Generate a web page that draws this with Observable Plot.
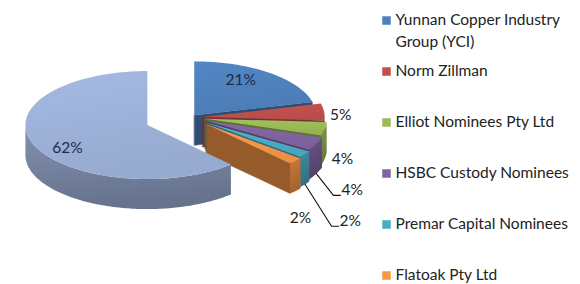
<!DOCTYPE html>
<html><head><meta charset="utf-8">
<script src="https://cdn.jsdelivr.net/npm/d3@7"></script>
<script src="https://cdn.jsdelivr.net/npm/@observablehq/plot@0.6"></script>
<style>body{margin:0;background:#fff}#chart{width:580px;height:284px}</style>
</head><body><div id="chart"></div>
<script>
// ---- data ----
const owners = ["Yunnan Copper Industry Group (YCI)", "Norm Zillman", "Elliot Nominees Pty Ltd", "HSBC Custody Nominees", "Premar Capital Nominees", "Flatoak Pty Ltd", "Others"];
const shares = [21, 5, 4, 4, 2, 2, 62];
const pctLabels = ["21%", "5%", "4%", "4%", "2%", "2%", "62%"];
const legendLabels = [["Yunnan Copper Industry", "Group (YCI)"], ["Norm Zillman"], ["Elliot Nominees Pty Ltd"], ["HSBC Custody Nominees"], ["Premar Capital Nominees"], ["Flatoak Pty Ltd"]];

// ---- style / layout ----
const palette = ["#4F81BD", "#C0504D", "#9BBB59", "#8064A2", "#4BACC6", "#F79646", "#9EB1D9"];
const W = 580, H = 284;
const cx0 = 190, cy0 = 117, rx = 122, ry = 54, depth = 30;
const explode = [0.05, 0.10, 0.12, 0.14, 0.16, 0.18, 0.38];
const labelR = [0.62, 1.136, 1.149, 1.227, 1.35, 1.057, 0.704];
const labelH = [-0.3, 0.12, 0.95, 1.38, 1.86, 1.84, 0.3];
const labelLeader = [false, false, false, true, true, false, false];
const labelInside = [true, false, false, false, false, false, true];

// ---- geometry ----
const total = d3.sum(shares);
let acc = 0;
const slices = shares.map((v, i) => {
  const a0 = acc / total * 2 * Math.PI; acc += v;
  const a1 = acc / total * 2 * Math.PI;
  const m = (a0 + a1) / 2;
  return {i, a0, a1, m, ox: cx0 + explode[i] * rx * Math.sin(m), oy: cy0 - explode[i] * ry * Math.cos(m)};
});
const pt = (s, a, r, h) => ({x: s.ox + r * rx * Math.sin(a), y: s.oy - r * ry * Math.cos(a) + h * depth});
const arcPts = (s, t0, t1, h) => {
  const n = Math.max(2, Math.ceil((t1 - t0) / 0.02));
  return d3.range(n + 1).map(k => pt(s, t0 + (t1 - t0) * k / n, 1, h));
};

const faces = [];
for (const s of slices) {
  const base = palette[s.i];
  const faceCol = d3.color(base).darker(1.4).formatHex();
  const radial = a => [pt(s, a, 0, 0), pt(s, a, 1, 0), pt(s, a, 1, 1), pt(s, a, 0, 1)];
  if (Math.sin(s.a0) < -1e-6) faces.push({pts: radial(s.a0), fill: faceCol});
  if (Math.sin(s.a1) > 1e-6) faces.push({pts: radial(s.a1), fill: faceCol});
  const t0 = Math.max(s.a0, Math.PI / 2), t1 = Math.min(s.a1, 3 * Math.PI / 2);
  if (t0 < t1) faces.push({pts: arcPts(s, t0, t1, 0).concat(arcPts(s, t0, t1, 1).reverse()), fill: `url(#wall-${s.i})`});
  faces.push({pts: [pt(s, 0, 0, 0), ...arcPts(s, s.a0, s.a1, 0)], fill: `url(#top-${s.i})`});
}

const labels = slices.map(s => {
  const p = pt(s, s.m, labelR[s.i], labelH[s.i]);
  return {x: p.x, y: p.y, text: pctLabels[s.i], i: s.i};
});
const leaders = [];
for (const s of slices) if (labelLeader[s.i]) {
  const l = labels[s.i];
  const a = pt(s, s.m, 1, 1);
  leaders.push({i: s.i, x: a.x, y: a.y}, {i: s.i, x: l.x - 8, y: l.y + 5}, {i: s.i, x: l.x - 1, y: l.y + 5});
}

const legendRows = [];
legendLabels.forEach((lines, i) => lines.forEach((t, j) => legendRows.push({i, j, text: t, x: 395, y: 20 + 51 * i + 22 * j})));
const legendKeys = legendLabels.map((_, i) => ({i, x: 386, y: 20 + 51 * i}));

const chart = Plot.plot({
  width: W, height: H, margin: 0,
  x: {domain: [0, W], axis: null},
  y: {domain: [0, H], reverse: true, axis: null},
  style: {background: "transparent", fontFamily: "Lato, 'Open Sans', sans-serif"},
  marks: [
    ...faces.map(f => Plot.line(f.pts, {x: "x", y: "y", curve: "linear-closed", fill: f.fill, stroke: f.fill.startsWith("url") ? "none" : f.fill, strokeWidth: 0.4})),
    Plot.line(leaders, {x: "x", y: "y", z: "i", stroke: "#111", strokeWidth: 1.1}),
    Plot.text(labels.filter(d => !labelLeader[d.i]), {x: "x", y: "y", text: "text", fontSize: 15.5, fill: d => labelInside[d.i] ? "#1c2a48" : "#222", textAnchor: "middle"}),
    Plot.text(labels.filter(d => labelLeader[d.i]), {x: "x", y: "y", text: "text", fontSize: 15.5, fill: "#222", textAnchor: "start"}),
    Plot.dot(legendKeys, {x: "x", y: "y", symbol: "square", r: 4.8, fill: d => palette[d.i], stroke: "none"}),
    Plot.text(legendRows, {x: "x", y: "y", text: "text", fontSize: 15.5, fill: "#222", textAnchor: "start"})
  ]
});

// gradient definitions for the 3D shading
const svg = d3.select(chart.tagName === "svg" ? chart : chart.querySelector("svg"));
const defs = svg.insert("defs", ":first-child");
palette.forEach((c, i) => {
  const top = defs.append("linearGradient").attr("id", `top-${i}`).attr("x1", 0).attr("y1", 0).attr("x2", 0.3).attr("y2", 1);
  top.append("stop").attr("offset", 0).attr("stop-color", d3.color(c).brighter(0.12).formatHex());
  top.append("stop").attr("offset", 1).attr("stop-color", d3.color(c).darker(0.12).formatHex());
  const wall = defs.append("linearGradient").attr("id", `wall-${i}`).attr("x1", 0).attr("y1", 0).attr("x2", 0.2).attr("y2", 1);
  wall.append("stop").attr("offset", 0).attr("stop-color", d3.color(c).darker(0.55).formatHex());
  wall.append("stop").attr("offset", 1).attr("stop-color", d3.color(c).darker(1.2).formatHex());
});
document.getElementById("chart").appendChild(chart);
</script></body></html>
